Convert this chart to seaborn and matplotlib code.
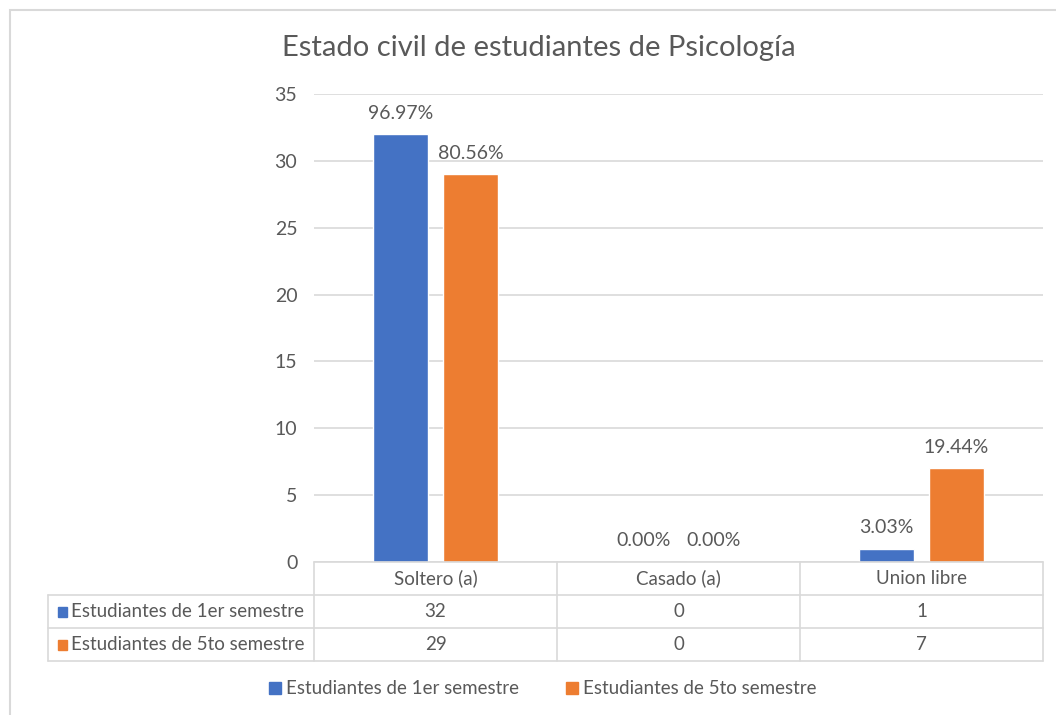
import pandas as pd
import numpy as np
import matplotlib.pyplot as plt
from matplotlib.lines import Line2D
from matplotlib.patches import Rectangle
import seaborn as sns

categorias = ['Soltero (a)', 'Casado (a)', 'Union libre']
series = ['Estudiantes de 1er semestre', 'Estudiantes de 5to semestre']
primer_semestre = [32, 0, 1]
quinto_semestre = [29, 0, 7]
colores = ['#4472C4', '#ED7D31']
gris_texto = '#595959'
gris_linea = '#D9D9D9'

df = pd.DataFrame({
    'Estado': categorias * 2,
    'Serie': [series[0]] * 3 + [series[1]] * 3,
    'Cantidad': primer_semestre + quinto_semestre,
})

sns.set_style('white')
plt.rcParams['font.family'] = ['Lato', 'DejaVu Sans']

W, H = 1056, 715
fig = plt.figure(figsize=(W / 100, H / 100), dpi=100)

def fx(x):
    return x / W

def fy(y):
    return 1 - y / H

# chart area positioned like the Excel export
left, right, top, bottom = 314, 1043, 94, 562
ax = fig.add_axes([fx(left), fy(bottom), fx(right) - fx(left), fy(top) - fy(bottom)])

sns.barplot(data=df, x='Estado', y='Cantidad', hue='Serie', palette=colores,
            width=0.576, gap=0.215, ax=ax, legend=False, saturation=1)

ax.set_ylim(0, 35)
ax.set_yticks(range(0, 36, 5))
ax.yaxis.grid(True, color=gris_linea, linewidth=1.2)
ax.set_axisbelow(True)
ax.set_xticks([])
ax.set_xlabel('')
ax.set_ylabel('')
ax.tick_params(axis='y', length=0, pad=12, labelsize=14, labelcolor=gris_texto)
for s in ax.spines.values():
    s.set_visible(False)

# percentage labels on the bars
for cont, vals in zip(ax.containers, [primer_semestre, quinto_semestre]):
    total = sum(vals)
    etiquetas = [f'{v / total * 100:.2f}%' for v in vals]
    ax.bar_label(cont, labels=etiquetas, padding=9, fontsize=14, color=gris_texto)

fig.text(fx(539), fy(48), 'Estado civil de estudiantes de Psicología',
         ha='center', va='center', fontsize=21, color=gris_texto)

# data table under the chart
def linea(x0, y0, x1, y1):
    fig.add_artist(Line2D([fx(x0), fx(x1)], [fy(y0), fy(y1)], color=gris_linea, linewidth=1.2))

col_x = [314, 557, 800, 1043]
row_y = [562, 595, 628, 661]
linea(314, 562, 1043, 562)
for y in row_y[1:]:
    linea(48, y, 1043, y)
for x in col_x:
    linea(x, 562, x, 661)
linea(48, 595, 48, 661)

for i, cat in enumerate(categorias):
    cx = (col_x[i] + col_x[i + 1]) / 2
    fig.text(fx(cx), fy(578.5), cat, ha='center', va='center', fontsize=13.5, color=gris_texto)
    for j, vals in enumerate([primer_semestre, quinto_semestre]):
        fig.text(fx(cx), fy(611.5 + 33 * j), str(vals[i]), ha='center', va='center',
                 fontsize=13.5, color=gris_texto)

for j, nombre in enumerate(series):
    yc = 611.5 + 33 * j
    fig.add_artist(Rectangle((fx(58), fy(yc + 5)), fx(9), 10 / H, color=colores[j]))
    fig.text(fx(71), fy(yc), nombre, ha='left', va='center', fontsize=13.5, color=gris_texto)

# legend at the bottom
handles = [Line2D([], [], marker='s', linestyle='', markersize=8, color=c) for c in colores]
fig.legend(handles, series, loc='center', bbox_to_anchor=(fx(543), fy(689)), ncol=2,
           frameon=False, fontsize=13.5, labelcolor=gris_texto, handlelength=0.6,
           handletextpad=0.3, columnspacing=2.5)

# outer chart border
fig.add_artist(Rectangle((fx(10), fy(H + 20)), 1.2, fy(10) - fy(H + 20), fill=False,
                         edgecolor=gris_linea, linewidth=1.5))

fig.savefig('out.png', dpi=100)
